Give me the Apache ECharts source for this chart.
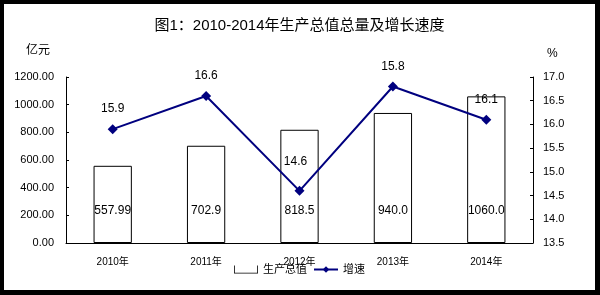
<!DOCTYPE html>
<html><head><meta charset="utf-8">
<script src="https://cdn.jsdelivr.net/npm/echarts@6/dist/echarts.min.js"></script>
<style>
html,body{margin:0;padding:0;background:#000;width:600px;height:295px;overflow:hidden}
#c{position:absolute;left:4px;top:4px;width:591px;height:286px;background:#fff}
</style></head><body><div id="c"></div>
<script>
const categories = ["2010年","2011年","2012年","2013年","2014年"];
const gdpValues = [557.99, 702.9, 818.5, 940.0, 1060.0];
const gdpLabels = ["557.99","702.9","818.5","940.0","1060.0"];
const growthValues = [15.9, 16.6, 14.6, 16.8, 16.1];
const growthLabels = ["15.9","16.6","14.6","15.8","16.1"];
const leftTicks = [0, 200, 400, 600, 800, 1000, 1200];
const rightTicks = [13.5, 14.0, 14.5, 15.0, 15.5, 16.0, 16.5, 17.0];

const font = 'Arial, "Liberation Sans", "Noto Sans CJK SC", sans-serif';
const chart = echarts.init(document.getElementById('c'));
const lineData = growthValues.map((v, i) => i === 2
  ? {value: v, label: {distance: 18, offset: [-4, 0]}}
  : {value: v});
chart.setOption({
  animation: false,
  textStyle: {fontFamily: font},
  title: {
    text: '图1：2010-2014年生产总值总量及增长速度',
    left: 'center', top: 9,
    textStyle: {fontSize: 15, fontWeight: 'normal', color: '#000', fontFamily: font}
  },
  legend: {
    bottom: 10, left: 'center', itemGap: 6, itemWidth: 24, itemHeight: 8,
    textStyle: {fontSize: 11, color: '#000', fontFamily: font},
    data: [
      {name: '生产总值', icon: 'path://M0,0 L0,10 L30,10 L30,0 L29,0 L29,9 L1,9 L1,0 Z', itemStyle:{color:'#000', borderWidth:0}},
      {name: '增速'}
    ]
  },
  grid: {left: 62, right: 62, top: 73, bottom: 47},
  xAxis: {
    type: 'category', data: categories,
    axisLine: {lineStyle: {color: '#000', width: 1}},
    axisTick: {inside: true, length: 4, lineStyle: {color: '#000'}},
    axisLabel: {fontSize: 10, color: '#000', margin: 14}
  },
  yAxis: [
    {
      type: 'value', min: leftTicks[0], max: leftTicks[leftTicks.length-1], interval: 200,
      name: '亿元', nameLocation: 'end', nameGap: 20,
      nameTextStyle: {fontSize: 12, color: '#000', align: 'right', padding: [0, 16, 0, 0]},
      axisLine: {show: true, lineStyle: {color: '#000'}},
      axisTick: {show: true, inside: true, length: 3, lineStyle: {color: '#000'}},
      splitLine: {show: false},
      axisLabel: {fontSize: 11, color: '#000', margin: 12, formatter: v => v.toFixed(2)}
    },
    {
      type: 'value', min: rightTicks[0], max: rightTicks[rightTicks.length-1], interval: 0.5,
      name: '%', nameLocation: 'end', nameGap: 17,
      nameTextStyle: {fontSize: 12, color: '#000', align: 'left', padding: [0, 0, 0, 14]},
      axisLine: {show: true, lineStyle: {color: '#000'}},
      axisTick: {show: true, inside: true, length: 3, lineStyle: {color: '#000'}},
      splitLine: {show: false},
      axisLabel: {fontSize: 11, color: '#000', margin: 10, formatter: v => v.toFixed(1)}
    }
  ],
  series: [
    {
      name: '生产总值', type: 'bar', yAxisIndex: 0, data: gdpValues, barWidth: '41%',
      itemStyle: {color: '#fff', borderColor: '#000', borderWidth: 1},
      label: {show: true, position: 'insideBottom', distance: 26, fontSize: 12, color: '#000',
        formatter: p => gdpLabels[p.dataIndex]}
    },
    {
      name: '增速', type: 'line', yAxisIndex: 1, data: lineData,
      symbol: 'diamond', symbolSize: 10,
      lineStyle: {color: '#00007f', width: 2},
      itemStyle: {color: '#00007f'},
      label: {show: true, position: 'top', distance: 9, fontSize: 12, color: '#000',
        formatter: p => growthLabels[p.dataIndex]},
      z: 5
    }
  ]
});
</script></body></html>
